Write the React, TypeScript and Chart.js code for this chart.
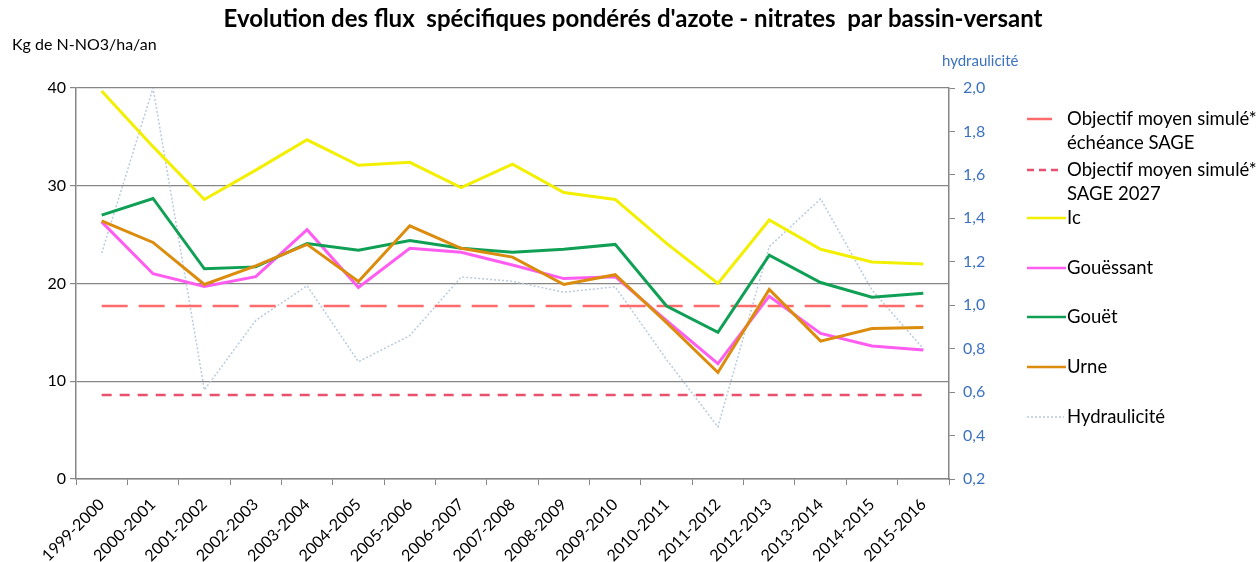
import React, { useEffect, useRef } from "react";
import { Chart, registerables } from "chart.js";

Chart.register(...registerables);

const categories = [
  "1999-2000", "2000-2001", "2001-2002", "2002-2003", "2003-2004", "2004-2005",
  "2005-2006", "2006-2007", "2007-2008", "2008-2009", "2009-2010", "2010-2011",
  "2011-2012", "2012-2013", "2013-2014", "2014-2015", "2015-2016",
];

const objectifEcheance = [17.7, 17.7, 17.7, 17.7, 17.7, 17.7, 17.7, 17.7, 17.7, 17.7, 17.7, 17.7, 17.7, 17.7, 17.7, 17.7, 17.7];
const objectif2027 = [8.6, 8.6, 8.6, 8.6, 8.6, 8.6, 8.6, 8.6, 8.6, 8.6, 8.6, 8.6, 8.6, 8.6, 8.6, 8.6, 8.6];
const ic = [39.7, 34.0, 28.6, 31.6, 34.7, 32.1, 32.4, 29.8, 32.2, 29.3, 28.6, 24.1, 20.0, 26.5, 23.5, 22.2, 22.0];
const gouessant = [26.3, 21.0, 19.7, 20.7, 25.5, 19.6, 23.6, 23.2, 21.9, 20.5, 20.7, 16.2, 11.8, 18.7, 14.9, 13.6, 13.2];
const gouet = [27.0, 28.7, 21.5, 21.7, 24.1, 23.4, 24.4, 23.6, 23.2, 23.5, 24.0, 17.7, 15.0, 22.9, 20.1, 18.6, 19.0];
const urne = [26.4, 24.2, 19.9, 21.8, 24.0, 20.2, 25.9, 23.6, 22.7, 19.9, 20.9, 16.0, 10.9, 19.4, 14.1, 15.4, 15.5];
const hydraulicite = [1.24, 2.0, 0.61, 0.93, 1.09, 0.74, 0.86, 1.13, 1.11, 1.06, 1.085, 0.75, 0.44, 1.27, 1.49, 1.07, 0.80];

const leftTicks = [0, 10, 20, 30, 40];
const rightTicks = [0.2, 0.4, 0.6, 0.8, 1.0, 1.2, 1.4, 1.6, 1.8, 2.0];

const titleText = "Evolution des flux  spécifiques pondérés d'azote - nitrates  par bassin-versant";
const leftAxisTitle = "Kg de N-NO3/ha/an";
const rightAxisTitle = "hydraulicité";

const FONT = "Lato, 'Open Sans', sans-serif";

const C_OBJ1 = "#ff6b6b";
const C_OBJ2 = "#e8506e";
const C_IC = "#f2f000";
const C_GOUESSANT = "#ff5cf0";
const C_GOUET = "#10a055";
const C_URNE = "#dc8c0c";
const C_HYDRO = "#b9cbdc";
const C_BLUE = "#3d72c0";

type LegendItem = { color: string; dash: number[]; width: number; lines: string[]; y: number; x0: number; x1: number };

const legendItems: LegendItem[] = [
  { color: C_OBJ1, dash: [], width: 2.5, lines: ["Objectif moyen simulé*", "échéance SAGE"], y: 119, x0: 1027, x1: 1052 },
  { color: C_OBJ2, dash: [7, 5], width: 2.5, lines: ["Objectif moyen simulé*", "SAGE 2027"], y: 170, x0: 1027, x1: 1062 },
  { color: C_IC, dash: [], width: 2.5, lines: ["Ic"], y: 218, x0: 1027, x1: 1066 },
  { color: C_GOUESSANT, dash: [], width: 2.5, lines: ["Gouëssant"], y: 268, x0: 1027, x1: 1066 },
  { color: C_GOUET, dash: [], width: 2.5, lines: ["Gouët"], y: 317, x0: 1027, x1: 1066 },
  { color: C_URNE, dash: [], width: 2.5, lines: ["Urne"], y: 367, x0: 1027, x1: 1066 },
  { color: C_HYDRO, dash: [2, 2], width: 1.5, lines: ["Hydraulicité"], y: 417, x0: 1027, x1: 1064 },
];

const textPlugin = {
  id: "texts",
  afterDraw(chart: any) {
    const ctx = chart.ctx;
    ctx.save();
    ctx.fillStyle = "#000";
    ctx.textBaseline = "middle";
    ctx.textAlign = "center";
    ctx.font = `bold 24px ${FONT}`;
    ctx.fillText(titleText, 633, 19);
    ctx.textAlign = "left";
    ctx.font = `16px ${FONT}`;
    ctx.fillText(leftAxisTitle, 12, 45);
    ctx.fillStyle = C_BLUE;
    ctx.font = `15px ${FONT}`;
    ctx.fillText(rightAxisTitle, 942, 61);
    ctx.font = `18.5px ${FONT}`;
    for (const it of legendItems) {
      ctx.strokeStyle = it.color;
      ctx.lineWidth = it.width;
      ctx.setLineDash(it.dash);
      ctx.beginPath();
      ctx.moveTo(it.x0, it.y);
      ctx.lineTo(it.x1, it.y);
      ctx.stroke();
      ctx.setLineDash([]);
      ctx.fillStyle = "#000";
      it.lines.forEach((l, i) => ctx.fillText(l, 1067, it.y + i * 24));
    }
    ctx.restore();
  },
};

export default function App() {
  const ref = useRef<HTMLCanvasElement | null>(null);
  useEffect(() => {
    document.body.style.margin = "0";
    const canvas = ref.current;
    if (!canvas) return;
    const chart = new Chart(canvas, {
      type: "line",
      data: {
        labels: categories,
        datasets: [
          { label: "Objectif moyen simulé* échéance SAGE", data: objectifEcheance, borderColor: C_OBJ1, borderWidth: 2.5, borderDash: [26, 11], pointRadius: 0, yAxisID: "y", order: 6 },
          { label: "Objectif moyen simulé* SAGE 2027", data: objectif2027, borderColor: C_OBJ2, borderWidth: 2.5, borderDash: [10, 8], pointRadius: 0, yAxisID: "y", order: 5 },
          { label: "Ic", data: ic, borderColor: C_IC, borderWidth: 3, pointRadius: 0, yAxisID: "y", order: 4 },
          { label: "Gouëssant", data: gouessant, borderColor: C_GOUESSANT, borderWidth: 3, pointRadius: 0, yAxisID: "y", order: 3 },
          { label: "Gouët", data: gouet, borderColor: C_GOUET, borderWidth: 3, pointRadius: 0, yAxisID: "y", order: 2 },
          { label: "Urne", data: urne, borderColor: C_URNE, borderWidth: 3, pointRadius: 0, yAxisID: "y", order: 1 },
          { label: "Hydraulicité", data: hydraulicite, borderColor: C_HYDRO, borderWidth: 1.5, borderDash: [2, 2], pointRadius: 0, yAxisID: "y2", order: 7 },
        ],
      },
      options: {
        responsive: false,
        animation: false,
        layout: { padding: { top: 88, left: 0, right: 0, bottom: 0 } },
        plugins: { legend: { display: false }, title: { display: false }, tooltip: { enabled: false } },
        scales: {
          x: {
            offset: true,
            grid: { display: true, drawOnChartArea: false, drawTicks: true, tickLength: 6, color: "#868686", offset: true },
            border: { display: true, color: "#868686", width: 1.5 },
            ticks: { maxRotation: 45, minRotation: 45, color: "#000", font: { family: FONT, size: 16 }, padding: 10, autoSkip: false },
            afterFit: (s: any) => { s.height = 83; },
          },
          y: {
            position: "left",
            min: 0,
            max: 40,
            afterBuildTicks: (s: any) => { s.ticks = leftTicks.map((v) => ({ value: v })); },
            grid: { color: "#868686", lineWidth: 1.2, tickLength: 6 },
            border: { display: true, color: "#868686", width: 1.5 },
            ticks: { color: "#000", font: { family: FONT, size: 16 }, padding: 4 },
            afterFit: (s: any) => { s.width = 76; },
          },
          y2: {
            position: "right",
            min: 0.2,
            max: 2.0,
            afterBuildTicks: (s: any) => { s.ticks = rightTicks.map((v) => ({ value: v })); },
            grid: { drawOnChartArea: false, color: "#868686", tickLength: 6 },
            border: { display: true, color: "#868686", width: 1.5 },
            ticks: {
              color: C_BLUE,
              font: { family: FONT, size: 16 },
              padding: 8,
              callback: (v: any) => Number(v).toFixed(1).replace(".", ","),
            },
            afterFit: (s: any) => { s.width = 311; },
          },
        },
      },
      plugins: [textPlugin],
    });
    return () => chart.destroy();
  }, []);
  return (
    <div style={{ position: "fixed", left: 0, top: 0, width: 1260, height: 562, background: "#fff" }}>
      <canvas ref={ref} width={1260} height={562} />
    </div>
  );
}
